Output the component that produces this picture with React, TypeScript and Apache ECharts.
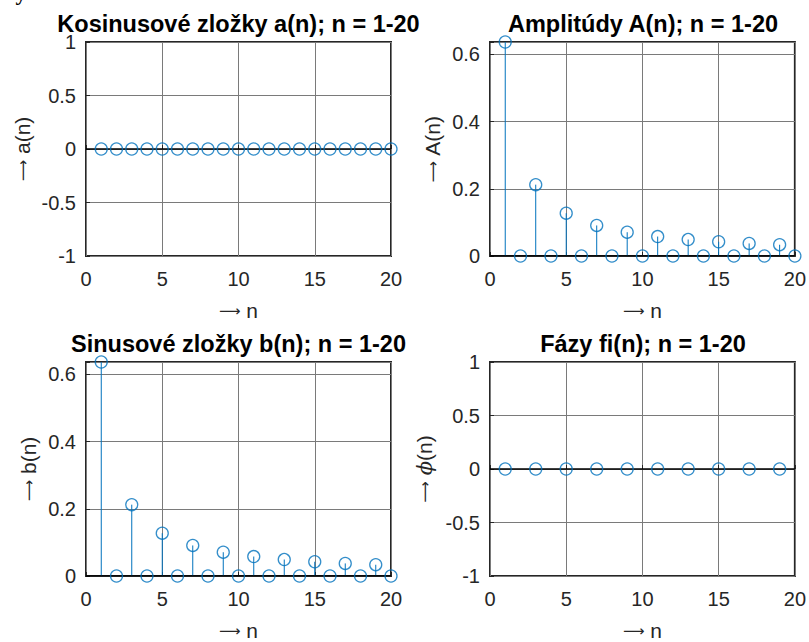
import React, { useEffect, useRef } from "react";
import * as echarts from "echarts";

// ---- data ----
const nAll = [1, 2, 3, 4, 5, 6, 7, 8, 9, 10, 11, 12, 13, 14, 15, 16, 17, 18, 19, 20];
const cosValues = [0, 0, 0, 0, 0, 0, 0, 0, 0, 0, 0, 0, 0, 0, 0, 0, 0, 0, 0, 0];
const ampValues = [0.6366, 0, 0.2122, 0, 0.1273, 0, 0.0909, 0, 0.0707, 0, 0.0579, 0, 0.049, 0, 0.0424, 0, 0.0374, 0, 0.0335, 0];
const sinValues = [0.6366, 0, 0.2122, 0, 0.1273, 0, 0.0909, 0, 0.0707, 0, 0.0579, 0, 0.049, 0, 0.0424, 0, 0.0374, 0, 0.0335, 0];
const phaseN = [1, 3, 5, 7, 9, 11, 13, 15, 17, 19];
const phaseValues = [0, 0, 0, 0, 0, 0, 0, 0, 0, 0];

const titles = [
  "Kosinusové zložky a(n); n = 1-20",
  "Amplitúdy A(n); n = 1-20",
  "Sinusové zložky b(n); n = 1-20",
  "Fázy fi(n); n = 1-20",
];
const yNames = ["{a|⟶} a(n)", "{a|⟶} A(n)", "{a|⟶} b(n)", "{a|⟶} {i|ϕ}(n)"];
const xName = "{a|⟶} n";

const FONT = '"Liberation Sans", Arial, Helvetica, sans-serif';
const BLUE = "#0072BD";
const TXT = "#262626";
const GRIDC = "#7a7a7a";

export default function App() {
  const ref = useRef<HTMLDivElement>(null);
  useEffect(() => {
    if (!ref.current) return;
    const chart = echarts.init(ref.current, undefined, { renderer: "svg" });

    const grids = [
      { left: 86, top: 42, width: 305, height: 214 },
      { left: 490, top: 42, width: 306, height: 214 },
      { left: 86, top: 362, width: 305, height: 214 },
      { left: 490, top: 362, width: 306, height: 214 },
    ];
    const yCfg = [
      { min: -1, max: 1, interval: 0.5, gap: 53 },
      { min: 0, max: 0.6366, interval: 0.2, gap: 47 },
      { min: 0, max: 0.6366, interval: 0.2, gap: 47 },
      { min: -1, max: 1, interval: 0.5, gap: 55 },
    ];
    const datasets = [
      nAll.map((n, i) => [n, cosValues[i]]),
      nAll.map((n, i) => [n, ampValues[i]]),
      nAll.map((n, i) => [n, sinValues[i]]),
      phaseN.map((n, i) => [n, phaseValues[i]]),
    ];

    const fmt = (step: number) => (v: number) => {
      const k = v / step;
      if (Math.abs(k - Math.round(k)) > 1e-6) return "";
      const r = Math.round(v * 10) / 10;
      return String(r);
    };

    const rich = {
      a: { fontFamily: '"DejaVu Sans", sans-serif', fontSize: 15, color: TXT },
      i: { fontFamily: '"DejaVu Serif", serif', fontStyle: "italic", fontSize: 21, color: TXT },
    };

    const option: any = {
      animation: false,
      backgroundColor: "#fff",
      title: titles.map((t, i) => ({
        text: t,
        left: grids[i].left + grids[i].width / 2,
        top: grids[i].top - 30,
        padding: 0,
        textAlign: "center",
        textStyle: { fontFamily: FONT, fontSize: 23.5, fontWeight: "bold", color: "#000" },
      })),
      grid: grids.map((g) => ({
        ...g,
        show: true,
        borderColor: TXT,
        borderWidth: 2,
        backgroundColor: "#fff",
        containLabel: false,
      })),
      xAxis: grids.map((_, i) => ({
        type: "value",
        gridIndex: i,
        min: 0,
        max: 20,
        interval: 5,
        name: xName,
        nameLocation: "middle",
        nameGap: 44,
        nameTextStyle: { fontFamily: FONT, fontSize: 21, color: TXT, rich },
        axisLine: { show: false },
        axisTick: { show: true, inside: true, length: 4, lineStyle: { color: TXT } },
        axisLabel: { fontFamily: FONT, fontSize: 20, color: TXT, margin: 13 },
        splitLine: { show: true, lineStyle: { color: GRIDC, width: 1 } },
      })),
      yAxis: grids.map((_, i) => ({
        type: "value",
        gridIndex: i,
        min: yCfg[i].min,
        max: yCfg[i].max,
        interval: yCfg[i].interval,
        name: yNames[i],
        nameLocation: "middle",
        nameRotate: 90,
        nameGap: yCfg[i].gap,
        nameTextStyle: { fontFamily: FONT, fontSize: 21, color: TXT, rich },
        axisLine: { show: false },
        axisTick: { show: true, inside: true, length: 4, lineStyle: { color: TXT } },
        axisLabel: { fontFamily: FONT, fontSize: 20, color: TXT, margin: 10, formatter: fmt(yCfg[i].interval) },
        splitLine: { show: true, lineStyle: { color: GRIDC, width: 1 } },
      })),
      series: [
        ...datasets.map((d, i) => ({
          type: "custom",
          xAxisIndex: i,
          yAxisIndex: i,
          data: d,
          encode: { x: 0, y: 1 },
          z: 3,
          renderItem: (params: any, api: any) => {
            const x = api.value(0);
            const y = api.value(1);
            const p0 = api.coord([x, 0]);
            const p1 = api.coord([x, y]);
            return {
              type: "line",
              shape: { x1: p0[0], y1: p0[1], x2: p1[0], y2: p1[1] },
              style: { stroke: BLUE, lineWidth: 1 },
            };
          },
        })),
        ...datasets.map((d, i) => ({
          type: "scatter",
          xAxisIndex: i,
          yAxisIndex: i,
          data: d,
          symbol: "circle",
          symbolSize: 12,
          clip: false,
          z: 5,
          itemStyle: { color: "rgba(0,0,0,0)", borderColor: BLUE, borderWidth: 1.3 },
          markLine: {
            silent: true,
            symbol: ["none", "none"],
            label: { show: false },
            lineStyle: { color: "#000", width: 1.6, type: "solid" },
            data: [{ yAxis: 0 }],
            z: 4,
          },
        })),
      ],
      graphic: [
        {
          type: "text",
          left: -1,
          top: -19,
          style: { text: "1 y", font: 'bold 22px "Liberation Serif", serif', fill: "#000" },
        },
      ],
    };
    chart.setOption(option);
    return () => chart.dispose();
  }, []);
  return <div ref={ref} style={{ position: "fixed", left: 0, top: 0, width: 809, height: 642 }} />;
}
